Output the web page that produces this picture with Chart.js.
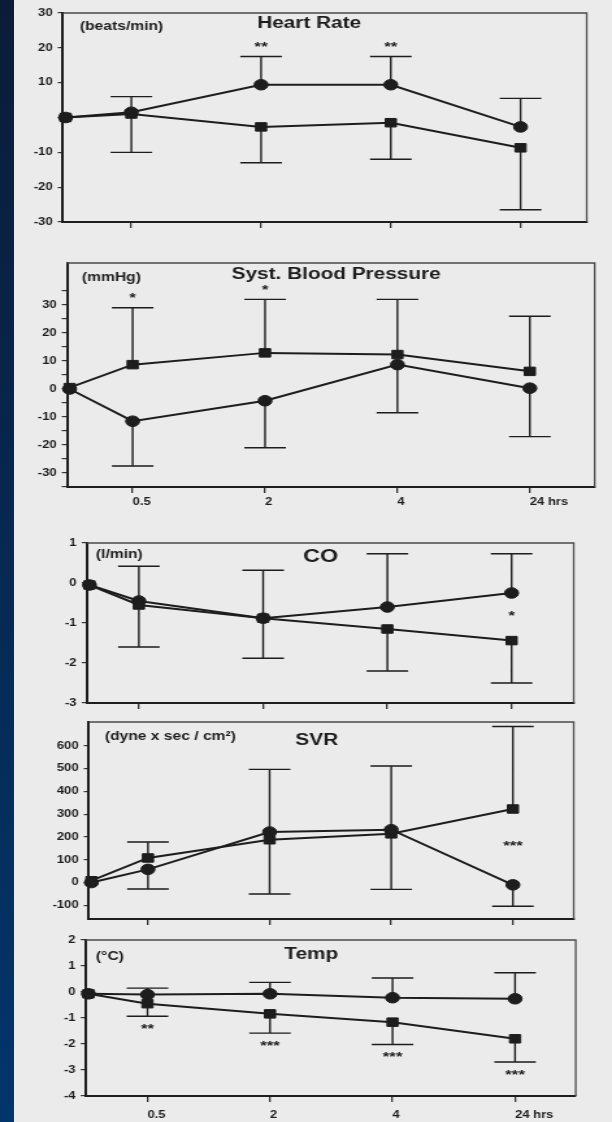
<!DOCTYPE html>
<html>
<head>
<meta charset="utf-8">
<script src="https://cdn.jsdelivr.net/npm/chart.js@4.4.0/dist/chart.umd.min.js"></script>
<style>
  html, body { margin: 0; padding: 0; }
  body { width: 612px; height: 1122px; background: #ebebeb; position: relative; overflow: hidden; }
  #edge { position: absolute; left: 0; top: 0; width: 14px; height: 1122px; background: linear-gradient(#0b1c38, #02356c); }
  canvas.panel { position: absolute; left: 0; filter: blur(0.35px); }
</style>
</head>
<body>
<div id="edge"></div>
<canvas id="hr" class="panel"></canvas>
<canvas id="bp" class="panel"></canvas>
<canvas id="co" class="panel"></canvas>
<canvas id="svr" class="panel"></canvas>
<canvas id="temp" class="panel"></canvas>
<script>
// the scanned figure is stretched sideways, so draw narrow and widen with css
const S = 1.3;
const PAGE_W = 612;

// baseline, then 0.5, 2, 4, 24 hrs
const timeLabels = ['0.5', '2', '4', '24 hrs'];
const timeX = [0.5, 1, 2, 3, 4];

// Heart Rate (beats/min)
const hrCircle = [0, 1.5, 9.4, 9.4, -2.7];
const hrSquare = [0, 1, -2.7, -1.5, -8.7];
const hrUpper = [null, 6, 17.5, 17.5, 5.5];
const hrLower = [null, -10, -13, -12, -26.5];
const hrStars = ['', '', '**', '**', ''];
const hrTicks = [-30, -20, -10, 0, 10, 20, 30];
const hrTickLabels = ['-30', '-20', '-10', '', '10', '20', '30'];

// Syst. Blood Pressure (mmHg)
const bpCircle = [0, -11.5, -4.2, 8.7, 0.3];
const bpSquare = [0.5, 8.7, 12.9, 12.3, 6.3];
const bpUpper = [null, 29, 32, 32, 26];
const bpLower = [null, -27.5, -21, -8.5, -17];
const bpStars = ['', '*', '*', '', ''];
const bpTicks = [-35, -30, -25, -20, -15, -10, -5, 0, 5, 10, 15, 20, 25, 30, 35];
const bpTickLabels = ['', '-30', '', '-20', '', '-10', '', '0', '', '10', '', '20', '', '30', ''];

// CO (l/min)
const coCircle = [-0.05, -0.45, -0.88, -0.6, -0.25];
const coSquare = [-0.05, -0.55, -0.88, -1.15, -1.44];
const coUpper = [null, 0.42, 0.32, 0.73, 0.73];
const coLower = [null, -1.6, -1.88, -2.2, -2.5];
const coStars = ['', '', '', '', '*'];
const coTicks = [-3, -2, -1, 0, 1];
const coTickLabels = ['-3', '-2', '-1', '0', '1'];

// SVR (dyne x sec / cm2)
const svrCircle = [0, 58, 222, 232, -10];
const svrSquare = [8, 108, 188, 214, 323];
const svrUpper = [null, 178, 497, 512, 685];
const svrLower = [null, -28, -50, -30, -104];
const svrStars = ['', '', '', '', '***'];
const svrTicks = [-100, 0, 100, 200, 300, 400, 500, 600];
const svrTickLabels = ['-100', '0', '100', '200', '300', '400', '500', '600'];

// Temp (°C)
const tCircle = [-0.07, -0.1, -0.07, -0.22, -0.26];
const tSquare = [-0.07, -0.45, -0.84, -1.16, -1.8];
const tUpper = [null, 0.15, 0.37, 0.54, 0.74];
const tLower = [null, -0.93, -1.58, -2.02, -2.69];
const tStars = ['', '**', '***', '***', '***'];
const tTicks = [-4, -3, -2, -1, 0, 1, 2];
const tTickLabels = ['-4', '-3', '-2', '-1', '0', '1', '2'];

const INK = '#1d1d1d';
const FONT = 'Liberation Sans';

// layout of each panel in page pixels: box = [left, top, right, bottom]
const panels = [
  { id: 'hr', top: 0, h: 240, box: [63, 13, 587, 222], xh: 12, xr: [0.473, 4.51], yr: [-30, 30],
    circle: hrCircle, square: hrSquare, upper: hrUpper, lower: hrLower, stars: hrStars, starMode: 'above',
    yTicks: hrTicks, yLabels: hrTickLabels, xLabels: false,
    title: 'Heart Rate', titleSize: 16, tx: 0.47, ty: 11, unit: '(beats/min)', ux: 17, uy: 14 },
  { id: 'bp', top: 245, h: 275, box: [67, 263, 595, 487], xh: 26, xr: [0.504, 4.49], yr: [-35, 45],
    circle: bpCircle, square: bpSquare, upper: bpUpper, lower: bpLower, stars: bpStars, starMode: 'above',
    yTicks: bpTicks, yLabels: bpTickLabels, xLabels: true, xPad: 3,
    title: 'Syst. Blood Pressure', titleSize: 16, tx: 0.51, ty: 12, unit: '(mmHg)', ux: 15, uy: 15 },
  { id: 'co', top: 525, h: 190, box: [87, 543, 574, 703], xh: 10, xr: [0.582, 4.5], yr: [-3, 1],
    circle: coCircle, square: coSquare, upper: coUpper, lower: coLower, stars: coStars, starMode: 'mid',
    yTicks: coTicks, yLabels: coTickLabels, xLabels: false,
    title: 'CO', titleSize: 18, tx: 0.48, ty: 14, unit: '(l/min)', ux: 9, uy: 12 },
  { id: 'svr', top: 712, h: 218, box: [89, 720, 574, 919], xh: 10, xr: [0.515, 4.5], yr: [-160, 705],
    circle: svrCircle, square: svrSquare, upper: svrUpper, lower: svrLower, stars: svrStars, starMode: 'mid',
    yTicks: svrTicks, yLabels: svrTickLabels, xLabels: false,
    title: 'SVR', titleSize: 16, tx: 0.47, ty: 19, unit: '(dyne x sec / cm\u00b2)', ux: 16, uy: 15 },
  { id: 'temp', top: 930, h: 192, box: [86, 938, 576, 1096], xh: 24, xr: [0.498, 4.495], yr: [-4, 2],
    circle: tCircle, square: tSquare, upper: tUpper, lower: tLower, stars: tStars, starMode: 'below',
    yTicks: tTicks, yLabels: tTickLabels, xLabels: true, xPad: 7,
    title: 'Temp', titleSize: 16, tx: 0.46, ty: 15, unit: '(\u00b0C)', ux: 10, uy: 17 }
];

function decor(p) {
  return {
    id: 'decor',
    beforeDatasetsDraw(chart) {
      const { ctx, chartArea: a, scales: { x, y } } = chart;
      const xAt = i => x.getPixelForValue(timeX[i]);
      const cap = 16;
      ctx.save();

      // thin frame on top and right
      ctx.strokeStyle = '#4a4a4a';
      ctx.lineWidth = 1.3;
      ctx.beginPath();
      ctx.moveTo(a.left, a.top);
      ctx.lineTo(a.right, a.top);
      ctx.lineTo(a.right, a.bottom);
      ctx.stroke();

      // error bars
      ctx.strokeStyle = INK;
      ctx.lineWidth = 1.4;
      ctx.beginPath();
      p.upper.forEach((end, i) => {
        if (end === null) return;
        const px = xAt(i), ey = y.getPixelForValue(end);
        ctx.moveTo(px, y.getPixelForValue(Math.max(p.circle[i], p.square[i])));
        ctx.lineTo(px, ey);
        ctx.moveTo(px - cap, ey);
        ctx.lineTo(px + cap, ey);
      });
      p.lower.forEach((end, i) => {
        if (end === null) return;
        const px = xAt(i), ey = y.getPixelForValue(end);
        ctx.moveTo(px, y.getPixelForValue(Math.min(p.circle[i], p.square[i])));
        ctx.lineTo(px, ey);
        ctx.moveTo(px - cap, ey);
        ctx.lineTo(px + cap, ey);
      });
      ctx.stroke();

      // title and unit
      ctx.fillStyle = INK;
      ctx.textBaseline = 'middle';
      ctx.textAlign = 'center';
      ctx.font = 'bold ' + p.titleSize + 'px "' + FONT + '"';
      ctx.fillText(p.title, a.left + p.tx * (a.right - a.left), a.top + p.ty);
      ctx.textAlign = 'left';
      ctx.font = 'bold 12px "' + FONT + '"';
      ctx.fillText(p.unit, a.left + p.ux / S, a.top + p.uy);

      // significance marks
      ctx.textAlign = 'center';
      ctx.font = 'bold 13px "' + FONT + '"';
      p.stars.forEach((s, i) => {
        if (!s) return;
        let sy;
        if (p.starMode === 'above') sy = y.getPixelForValue(p.upper[i]) - 9;
        else if (p.starMode === 'below') sy = y.getPixelForValue(p.lower[i]) + 13;
        else sy = (y.getPixelForValue(p.circle[i]) + y.getPixelForValue(p.square[i])) / 2;
        ctx.fillText(s, xAt(i), sy);
      });
      ctx.restore();
    }
  };
}

function makePanel(p) {
  const cv = document.getElementById(p.id);
  const w = Math.round(PAGE_W / S);
  cv.width = w;
  cv.height = p.h;
  cv.style.width = PAGE_W + 'px';
  cv.style.height = p.h + 'px';
  cv.style.top = p.top + 'px';

  const left = p.box[0] / S;
  const right = p.box[2] / S;
  const areaTop = p.box[1] - p.top;
  const areaBottom = p.box[3] - p.top;
  const pts = arr => arr.map((v, i) => ({ x: i === 0 ? p.xr[0] + 0.02 : timeX[i], y: v }));
  const tickFont = { family: FONT, weight: 'bold', size: 10 };

  const series = (arr, style, r) => ({
    data: pts(arr),
    borderColor: INK,
    borderWidth: 2,
    backgroundColor: INK,
    pointStyle: style,
    pointRadius: r,
    pointBackgroundColor: INK,
    pointBorderColor: INK,
    pointBorderWidth: 1,
    tension: 0,
    fill: false,
    clip: false
  });

  new Chart(cv, {
    type: 'line',
    data: { datasets: [series(p.square, 'rect', 6), series(p.circle, 'circle', 5.3)] },
    options: {
      responsive: false,
      animation: false,
      events: [],
      layout: { padding: { left: 0, right: w - right, top: areaTop, bottom: p.h - areaBottom - p.xh } },
      plugins: { legend: { display: false }, tooltip: { enabled: false } },
      scales: {
        x: {
          type: 'linear',
          min: p.xr[0],
          max: p.xr[1],
          afterBuildTicks: s => { s.ticks = timeX.slice(1).map(v => ({ value: v })); },
          afterFit: s => { s.height = p.xh; },
          ticks: {
            callback: (v, i) => p.xLabels ? timeLabels[i] : '',
            align: 'start',
            maxRotation: 0,
            autoSkip: false,
            padding: p.xPad || 2,
            font: tickFont,
            color: INK
          },
          grid: { drawOnChartArea: false, tickLength: 6, color: '#333', lineWidth: 1.3 },
          border: { color: INK, width: 2 }
        },
        y: {
          min: p.yr[0],
          max: p.yr[1],
          afterBuildTicks: s => { s.ticks = p.yTicks.map(v => ({ value: v })); },
          afterFit: s => { s.width = left; },
          ticks: {
            callback: (v, i) => p.yLabels[i],
            autoSkip: false,
            padding: 4,
            font: tickFont,
            color: INK
          },
          grid: { drawOnChartArea: false, tickLength: 4, color: '#333', lineWidth: 1.2 },
          border: { color: INK, width: 2 }
        }
      }
    },
    plugins: [decor(p)]
  });
}

panels.forEach(makePanel);
</script>
</body>
</html>
